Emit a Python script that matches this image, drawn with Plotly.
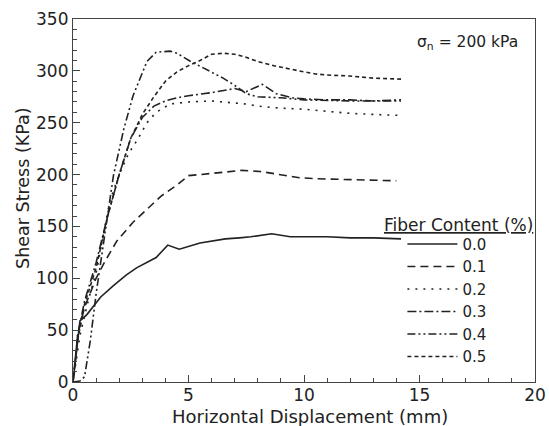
import plotly.graph_objects as go

# Horizontal displacement (mm) and shear stress (kPa) for each fiber content
x_00 = [0, 0.3, 0.6, 0.95, 1.2, 1.75, 2.3, 2.75, 3.6, 4.1, 4.6, 5.5, 6.6, 7.2, 7.7, 8.6, 9.4, 10.0, 11.0, 12.0, 13.0, 14.2]
y_00 = [0, 59, 65, 75, 82, 93, 103, 110, 120, 132, 128, 134, 138, 139, 140, 143, 140, 140, 140, 139, 139, 138]

x_01 = [0, 0.2, 0.5, 1.0, 1.4, 1.9, 2.6, 3.5, 3.8, 4.5, 5.0, 5.5, 6.5, 7.3, 8.1, 9.0, 9.8, 10.5, 12.0, 13.0, 14.0]
y_01 = [0, 45, 72, 100, 117, 136, 154, 173, 179, 190, 199, 200, 202, 204, 203, 200, 197, 196, 195, 194, 194]

x_02 = [0, 0.3, 0.7, 1.0, 1.3, 1.6, 2.0, 2.4, 2.8, 3.2, 3.6, 4.2, 5.0, 6.0, 7.0, 7.5, 8.0, 9.0, 10.0, 11.0, 12.0, 13.0, 14.2]
y_02 = [0, 45, 82, 105, 140, 175, 200, 220, 234, 250, 260, 268, 270, 271, 269, 268, 266, 264, 263, 261, 259, 258, 257]

x_03 = [0, 0.2, 0.5, 1.0, 1.5, 2.0, 2.5, 3.0, 3.5, 4.0, 4.5, 5.0, 6.0, 7.0, 7.5, 8.2, 8.8, 9.5, 10.0, 11.0, 12.0, 13.0, 14.2]
y_03 = [0, 45, 78, 115, 160, 200, 235, 255, 266, 271, 274, 276, 279, 283, 280, 287, 278, 274, 273, 272, 272, 271, 272]

x_04 = [0, 0.3, 0.5, 0.75, 1.0, 1.3, 1.75, 2.2, 2.6, 3.2, 3.6, 4.2, 4.5, 5.1, 5.8, 6.5, 7.0, 7.5, 8.0, 9.0, 10.0, 12.0, 14.2]
y_04 = [0, 1, 5, 40, 85, 130, 199, 244, 276, 309, 318, 319, 317, 309, 301, 293, 286, 278, 275, 274, 272, 271, 271]

x_05 = [0, 0.2, 0.5, 1.0, 1.5, 2.0, 2.5, 3.0, 3.5, 4.0, 4.5, 5.0, 5.5, 6.0, 6.5, 7.0, 7.5, 8.0, 8.7, 9.5, 10.0, 10.5, 11.0, 12.0, 13.0, 14.2]
y_05 = [0, 40, 75, 110, 160, 200, 235, 258, 275, 290, 299, 305, 310, 316, 317, 316, 313, 309, 305, 301, 299, 297, 296, 295, 293, 292]

labels = ["0.0", "0.1", "0.2", "0.3", "0.4", "0.5"]
xs = [x_00, x_01, x_02, x_03, x_04, x_05]
ys = [y_00, y_01, y_02, y_03, y_04, y_05]
dashes = ["solid", "8px,5px", "2px,6px", "9px,3px,2px,3px", "8px,3px,2px,3px,2px,3px", "4px,3px"]

x_ticks = [0, 5, 10, 15, 20]
y_ticks = [0, 50, 100, 150, 200, 250, 300, 350]

x_title = "Horizontal Displacement (mm)"
y_title = "Shear Stress (KPa)"
note = "σ<sub>n</sub> = 200 kPa"
legend_title = "Fiber Content (%)"

FONT = "DejaVu Sans, Liberation Sans, Arial, sans-serif"
INK = "#222222"
AX = "#444444"

fig = go.Figure()
for lab, xv, yv, d in zip(labels, xs, ys, dashes):
    fig.add_trace(go.Scatter(x=xv, y=yv, mode="lines", name=lab,
                             line=dict(color=INK, width=1.6, dash=d)))

axis_common = dict(showgrid=False, zeroline=False, showline=True, mirror=True, automargin=False,
                   linecolor=AX, linewidth=1.2, ticks="inside", ticklen=7,
                   tickcolor=AX, tickwidth=1, tickfont=dict(family=FONT, size=17, color=INK))

fig.update_xaxes(range=[0, 20], tickvals=x_ticks, ticktext=[str(v) for v in x_ticks],
                 minor=dict(dtick=1, ticks="inside", ticklen=4, tickcolor=AX),
                 ticklabelstandoff=-3, **axis_common)
fig.update_yaxes(range=[0, 350], tickvals=y_ticks, ticktext=[str(v) for v in y_ticks],
                 minor=dict(dtick=10, ticks="inside", ticklen=4, tickcolor=AX),
                 **axis_common)

# axis titles
fig.add_annotation(x=0.513, y=0, xref="paper", yref="paper", xanchor="center", yanchor="middle",
                   yshift=-34, text=x_title, showarrow=False,
                   font=dict(family=FONT, size=18, color=INK))
fig.add_annotation(x=0, y=0.532, xref="paper", yref="paper", xanchor="center", yanchor="middle",
                   xshift=-50, textangle=-90, text=y_title, showarrow=False,
                   font=dict(family=FONT, size=17.5, color=INK))

fig.add_annotation(x=0.967, y=0.935, xref="paper", yref="paper", xanchor="right", yanchor="middle",
                   text=note, showarrow=False,
                   font=dict(family=FONT, size=15.5, color=INK))
fig.add_annotation(x=1.0, y=0.40, xref="paper", yref="paper", xanchor="right", yanchor="bottom",
                   text=legend_title, showarrow=False,
                   font=dict(family=FONT, size=17, color=INK, lineposition="under"))

fig.update_layout(
    template="none",
    width=549, height=426,
    margin=dict(l=73, r=14, t=19, b=44),
    paper_bgcolor="white", plot_bgcolor="white",
    showlegend=True,
    legend=dict(x=0.713, y=0.425, xanchor="left", yanchor="top",
                bgcolor="rgba(0,0,0,0)", itemwidth=50, tracegroupgap=0,
                font=dict(family=FONT, size=15, color=INK)),
)

fig.write_html("out.html", config={"displayModeBar": False},
               post_script="document.body.style.margin='0';document.body.style.overflow='hidden';")
